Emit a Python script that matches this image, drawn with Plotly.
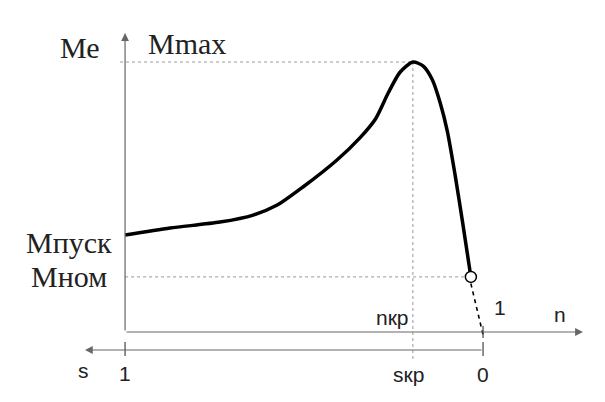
import plotly.graph_objects as go

# механическая характеристика асинхронного двигателя (в относительных единицах)
curve_n = [0.0, 0.126, 0.265, 0.358, 0.425, 0.497, 0.592, 0.656, 0.700, 0.735,
           0.768, 0.804, 0.833, 0.858, 0.880, 0.900, 0.922, 0.943,
           0.966]
curve_m = [0.359, 0.385, 0.407, 0.433, 0.470, 0.537, 0.637, 0.719, 0.790, 0.885,
           0.962, 1.0, 0.985, 0.935, 0.850, 0.745, 0.581, 0.405,
           0.204]

n_kr = 0.804      # критическая скорость
m_max = 1.0       # максимальный момент
n_nom = 0.966     # номинальная точка
m_nom = 0.204
n_sync = 1.0      # n = 1, s = 0

axis_color = '#666666'
text_color = '#222222'
serif = 'Liberation Serif, Times New Roman, serif'
sans = 'Liberation Sans, Arial, sans-serif'

fig = go.Figure()

# кривая
fig.add_trace(go.Scatter(x=curve_n, y=curve_m, mode='lines',
                         line=dict(color='black', width=3.5, shape='spline', smoothing=0.7),
                         hoverinfo='skip'))

# участок от номинальной точки до синхронной скорости (штрих)
fig.add_trace(go.Scatter(x=[n_nom, n_sync], y=[m_nom - 0.025, -0.01], mode='lines',
                         line=dict(color='black', width=1.6, dash='4px,4px'),
                         hoverinfo='skip'))

# номинальная точка
fig.add_trace(go.Scatter(x=[n_nom], y=[m_nom], mode='markers',
                         marker=dict(size=11, color='white', line=dict(color='black', width=1.5)),
                         hoverinfo='skip'))

shapes = []
# пунктирные линии
dot = dict(color='#999999', width=1, dash='dot')
shapes.append(dict(type='line', x0=-0.014, x1=n_kr, y0=m_max, y1=m_max, line=dot, layer='below'))
shapes.append(dict(type='line', x0=n_kr, x1=n_kr, y0=m_max, y1=-0.104, line=dot, layer='below'))
shapes.append(dict(type='line', x0=0, x1=n_nom, y0=m_nom, y1=m_nom, line=dot, layer='below'))
# засечки
tick = dict(color='#444444', width=1.2)
shapes.append(dict(type='line', x0=0, x1=0, y0=-0.037, y1=-0.089, line=tick))
shapes.append(dict(type='line', x0=n_sync, x1=n_sync, y0=-0.037, y1=-0.089, line=tick))
shapes.append(dict(type='line', x0=n_sync, x1=n_sync, y0=0.022, y1=-0.022, line=tick))

annotations = []
# оси со стрелками
def arrow(x0, y0, x1, y1):
    annotations.append(dict(x=x1, y=y1, ax=x0, ay=y0, xref='x', yref='y',
                            axref='x', ayref='y', showarrow=True, text='',
                            arrowhead=2, arrowsize=1.3, arrowwidth=1.2,
                            arrowcolor=axis_color))

arrow(0, 0, 0, 1.107)          # ось моментов
arrow(0, 0, 1.279, 0)          # ось n
arrow(n_sync, -0.0667, -0.112, -0.0667)  # ось s

def label(x, y, text, font, size, xanchor='center'):
    annotations.append(dict(x=x, y=y, xref='x', yref='y', text=text, showarrow=False,
                            xanchor=xanchor, yanchor='middle',
                            font=dict(family=font, size=size, color=text_color)))

label(-0.065, 1.055, 'Ме', serif, 30, 'right')
label(0.058, 1.07, 'Мmax', serif, 30, 'left')
label(-0.03, 0.333, 'Мпуск', serif, 30, 'right')
label(-0.045, 0.204, 'Мном', serif, 30, 'right')
label(0.748, 0.055, 'nкр', sans, 21)
label(1.047, 0.089, '1', sans, 21)
label(1.215, 0.063, 'n', sans, 21)
label(-0.117, -0.144, 's', sans, 21)
label(0.0, -0.152, '1', sans, 21)
label(0.793, -0.159, 'sкр', sans, 21)
label(n_sync, -0.159, '0', sans, 21)

fig.update_layout(
    width=605, height=402,
    margin=dict(l=0, r=0, t=0, b=0),
    paper_bgcolor='white', plot_bgcolor='white',
    showlegend=False,
    xaxis=dict(range=[-0.327, 1.363], visible=False, fixedrange=True),
    yaxis=dict(range=[-0.289, 1.200], visible=False, fixedrange=True),
    shapes=shapes,
    annotations=annotations,
)

fig.write_html("out.html")
